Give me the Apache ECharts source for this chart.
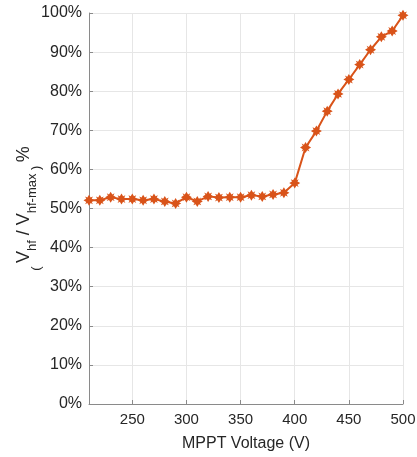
<!DOCTYPE html>
<html><head><meta charset="utf-8">
<script src="https://cdn.jsdelivr.net/npm/echarts@6/dist/echarts.min.js"></script>
<style>html,body{margin:0;padding:0;background:#fff}#c{width:417px;height:457px}</style>
</head><body><div id="c"></div>
<script>
const voltages = [210,220,230,240,250,260,270,280,290,300,310,320,330,340,350,360,370,380,390,400,410,420,430,440,450,460,470,480,490,500];
const ratioPct = [52.1,52.1,52.9,52.4,52.4,52.1,52.4,51.8,51.3,52.9,51.8,53.1,52.8,52.9,52.9,53.4,53.1,53.6,54.0,56.5,65.6,69.8,74.9,79.3,83.0,86.8,90.6,93.9,95.4,99.4];
const xTicks = [250,300,350,400,450,500];
const yTicks = [0,10,20,30,40,50,60,70,80,90,100];

const chart = echarts.init(document.getElementById('c'));
const font = 'Liberation Sans, Arial, sans-serif';
const txt = '#262626';
const star = 'path://M0,-10 L3,-5 L7.1,-7.1 L5,-3 L10,0 L5,3 L7.1,7.1 L3,5 L0,10 L-3,5 L-7.1,7.1 L-5,3 L-10,0 L-5,-3 L-7.1,-7.1 L-3,-5 Z';
chart.setOption({
  animation: false,
  grid: {left: 89, right: 14, top: 13, bottom: 53, containLabel: false, outerBoundsMode: 'none'},
  xAxis: {
    type: 'value', min: 210, max: 500,
    name: 'MPPT Voltage (V)', nameLocation: 'middle', nameGap: 32, nameMoveOverlap: false,
    nameTextStyle: {fontFamily: font, fontSize: 16, color: txt},
    axisLine: {show: true, lineStyle: {color: '#8a8a8a', width: 1}},
    axisTick: {show: true, inside: true, length: 4, customValues: xTicks, lineStyle: {color: '#8a8a8a'}},
    axisLabel: {customValues: xTicks, fontFamily: font, fontSize: 15, color: txt, margin: 8},
    splitLine: {show: true, lineStyle: {color: '#e6e6e6', width: 1}}
  },
  yAxis: {
    type: 'value', min: 0, max: 100, interval: 10,
    name: '{p|(} {v|V}{s|hf}{v| / V}{s|hf-max}{p| )} {v|%}', nameLocation: 'middle', nameGap: 56, nameMoveOverlap: false,
    nameTextStyle: {
      fontFamily: font, color: txt,
      rich: {
        v: {fontFamily: font, fontSize: 18, color: txt, verticalAlign: 'bottom'},
        s: {fontFamily: font, fontSize: 13, color: txt, verticalAlign: 'bottom', padding: [0,0,-6,0]},
        p: {fontFamily: font, fontSize: 13, color: txt, verticalAlign: 'bottom', padding: [0,0,-10,0]}
      }
    },
    axisLine: {show: true, lineStyle: {color: '#8a8a8a', width: 1}},
    axisTick: {show: true, inside: true, length: 4, lineStyle: {color: '#8a8a8a'}},
    axisLabel: {fontFamily: font, fontSize: 16, color: txt, margin: 7, formatter: v => v + '%'},
    splitLine: {show: true, lineStyle: {color: '#e6e6e6', width: 1}}
  },
  series: [{
    type: 'line',
    data: voltages.map((v, i) => [v, ratioPct[i]]),
    symbol: star, symbolSize: 11,
    itemStyle: {color: '#D95319'},
    lineStyle: {color: '#D95319', width: 2}
  }]
});
</script></body></html>
